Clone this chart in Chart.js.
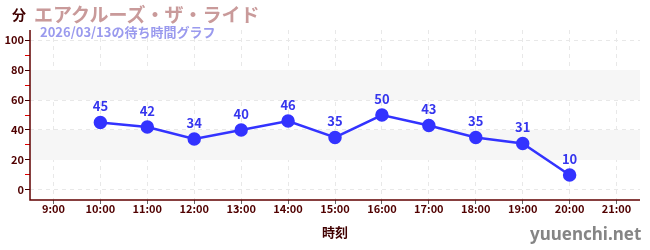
<!DOCTYPE html>
<html><head><meta charset="utf-8">
<script src="https://cdn.jsdelivr.net/npm/chart.js@4"></script>
<style>
html,body{margin:0;padding:0;background:#fff;}
#wrap{position:relative;width:650px;height:250px;}
canvas{position:absolute;left:0;top:0;}
.t{position:absolute;font-family:"Noto Sans CJK JP","Noto Sans",sans-serif;font-weight:bold;white-space:nowrap;line-height:1;}
</style></head>
<body>
<div id="wrap">
<canvas id="c" width="650" height="250"></canvas>
<div class="t" style="left:12px;top:7px;font-size:14px;color:#400000;">分</div>
<div class="t" style="left:34px;top:4px;font-size:19px;color:#c99a9a;">エアクルーズ・ザ・ライド</div>
<div class="t" style="left:40px;top:25px;font-size:13px;color:#9a9aee;">2026/03/13の待ち時間グラフ</div>
<div class="t" style="left:530px;top:225px;font-size:17px;color:#858585;font-family:'Noto Sans','Open Sans',sans-serif;">yuuenchi.net</div>
</div>
<script>
const categories = ["9:00","10:00","11:00","12:00","13:00","14:00","15:00","16:00","17:00","18:00","19:00","20:00","21:00"];
const waitTimes = [null,45,42,34,40,46,35,50,43,35,31,10,null];
const bands = [[20,40],[60,80]];
const yMin = -6.7, yMax = 106.7;

const bandPlugin = {
  id:'bands',
  beforeDatasetsDraw(chart){
    const {ctx, chartArea, scales} = chart;
    ctx.save();
    ctx.fillStyle = '#f6f6f6';
    bands.forEach(([a,b])=>{
      const y1 = scales.y.getPixelForValue(b), y2 = scales.y.getPixelForValue(a);
      ctx.fillRect(chartArea.left, y1, chartArea.right-chartArea.left, y2-y1);
    });
    ctx.restore();
  }
};
const axisPlugin = {
  id:'axes',
  afterDraw(chart){
    const {ctx, chartArea:a} = chart;
    ctx.save();
    ctx.strokeStyle = '#600000';
    ctx.lineWidth = 1.5;
    ctx.setLineDash([]);
    ctx.beginPath();
    ctx.moveTo(a.left, a.top);
    ctx.lineTo(a.left, a.bottom);
    ctx.lineTo(a.right, a.bottom);
    ctx.stroke();
    ctx.restore();
  }
};
const labelPlugin = {
  id:'vlabels',
  afterDatasetsDraw(chart){
    const {ctx} = chart;
    const meta = chart.getDatasetMeta(0);
    ctx.save();
    ctx.font = 'bold 13px "Noto Sans CJK JP","Noto Sans",sans-serif';
    ctx.fillStyle = '#3535ee';
    ctx.textAlign = 'center';
    ctx.textBaseline = 'middle';
    meta.data.forEach((pt,i)=>{
      const v = waitTimes[i];
      if (v === null) return;
      ctx.fillText(String(v), pt.x, pt.y - 16);
    });
    ctx.restore();
  }
};

new Chart(document.getElementById('c'), {
  type:'line',
  data:{ labels:categories, datasets:[{
    data:waitTimes, borderColor:'#3333ff', backgroundColor:'#3333ff',
    borderWidth:2.5, pointRadius:5.5, pointHoverRadius:5.5, tension:0, spanGaps:false
  }]},
  options:{
    responsive:false, animation:false,
    layout:{padding:{top:30,right:10,left:0,bottom:10}},
    plugins:{legend:{display:false},tooltip:{enabled:false}},
    scales:{
      x:{
        offset:true,
        grid:{color:'#e8e8e8', tickColor:'#666666', tickLength:4, offset:false, drawOnChartArea:true},
        border:{display:false, dash:[4,4]},
        ticks:{color:'#500000', font:{family:'"Noto Sans CJK JP","Noto Sans",sans-serif', size:11, weight:'bold'}, padding:-2, maxRotation:0, autoSkip:false},
        title:{display:true, text:'時刻', color:'#400000', font:{family:'"Noto Sans CJK JP",sans-serif', size:13, weight:'bold'}, padding:{top:4,bottom:0}},
        afterFit(s){ s.height = 40; }
      },
      y:{
        min:yMin, max:yMax,
        afterBuildTicks(s){ const t=[]; for(let v=0; v<=100; v+=10) t.push({value:v}); s.ticks=t; },
        grid:{color:c=> (c.tick && c.tick.value%20===0) ? '#e8e8e8':'transparent',
              tickColor:c=> (c.tick && c.tick.value%20===0) ? '#400000':'#dd0000', tickLength:5},
        border:{display:false, dash:[4,4]},
        ticks:{color:'#500000', padding:1,
          callback:(v)=> v%20===0 ? String(v) : '',
          font:{family:'"Noto Sans CJK JP","Noto Sans",sans-serif', size:11, weight:'bold'}},
        afterFit(s){ s.width = 30; }
      }
    }
  },
  plugins:[bandPlugin,labelPlugin,axisPlugin]
});
</script>
</body></html>
